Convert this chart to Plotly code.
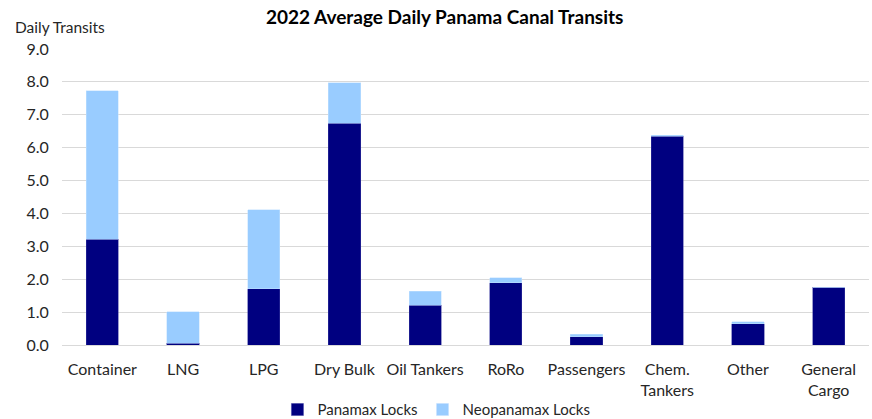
import plotly.graph_objects as go

categories = ["Container", "LNG", "LPG", "Dry Bulk", "Oil Tankers", "RoRo",
              "Passengers", "Chem.<br>Tankers", "Other", "General<br>Cargo"]
panamax = [3.22, 0.05, 1.71, 6.75, 1.21, 1.89, 0.25, 6.34, 0.64, 1.75]
neopanamax = [4.51, 0.96, 2.40, 1.22, 0.43, 0.15, 0.08, 0.04, 0.06, 0.0]
y_ticks = [0, 1, 2, 3, 4, 5, 6, 7, 8, 9]
y_ticklabels = ["0.0", "1.0", "2.0", "3.0", "4.0", "5.0", "6.0", "7.0", "8.0", "9.0"]

FONT = "Lato"

fig = go.Figure()
fig.add_trace(go.Bar(x=categories, y=panamax, name="Panamax Locks",
                     marker=dict(color="#000080", line=dict(color="#3a3aa0", width=0.5))))
fig.add_trace(go.Bar(x=categories, y=neopanamax, name="Neopanamax Locks",
                     marker=dict(color="#99CCFF", line=dict(color="#c4e1ff", width=0.5))))

fig.update_layout(
    barmode="stack",
    bargap=0.6,
    width=872, height=419,
    margin=dict(l=62, r=3, t=49, b=74),
    paper_bgcolor="white", plot_bgcolor="white",
    font=dict(family=FONT, size=16, color="#262626"),
    title=dict(text="<b>2022 Average Daily Panama Canal Transits</b>",
               x=0.510, xanchor="center", y=0.959, yanchor="middle",
               font=dict(family=FONT, size=19, color="#000000")),
    legend=dict(orientation="h", x=0.464, xanchor="center",
                yref="container", y=0.022, yanchor="middle",
                font=dict(family=FONT, size=15, color="#262626"),
                traceorder="normal"),
    yaxis=dict(range=[0, 9], tickvals=y_ticks, ticktext=y_ticklabels,
               showgrid=True, gridcolor="#d9d9d9", gridwidth=1,
               zeroline=True, zerolinecolor="#d9d9d9", zerolinewidth=1,
               showline=False, ticks="outside", ticklen=9, tickcolor="white",
               tickfont=dict(size=16), automargin=False),
    xaxis=dict(showline=False, ticks="outside", ticklen=10, tickcolor="white",
               tickfont=dict(size=16), automargin=False),
    annotations=[dict(text="Daily Transits", xref="paper", yref="paper",
                      x=-0.0607, y=1.074, xanchor="left", yanchor="middle",
                      showarrow=False, font=dict(family=FONT, size=15.5, color="#262626"))],
)

fig.write_html("out.html", config={"displayModeBar": False},
               post_script="document.body.style.margin='0px';")
